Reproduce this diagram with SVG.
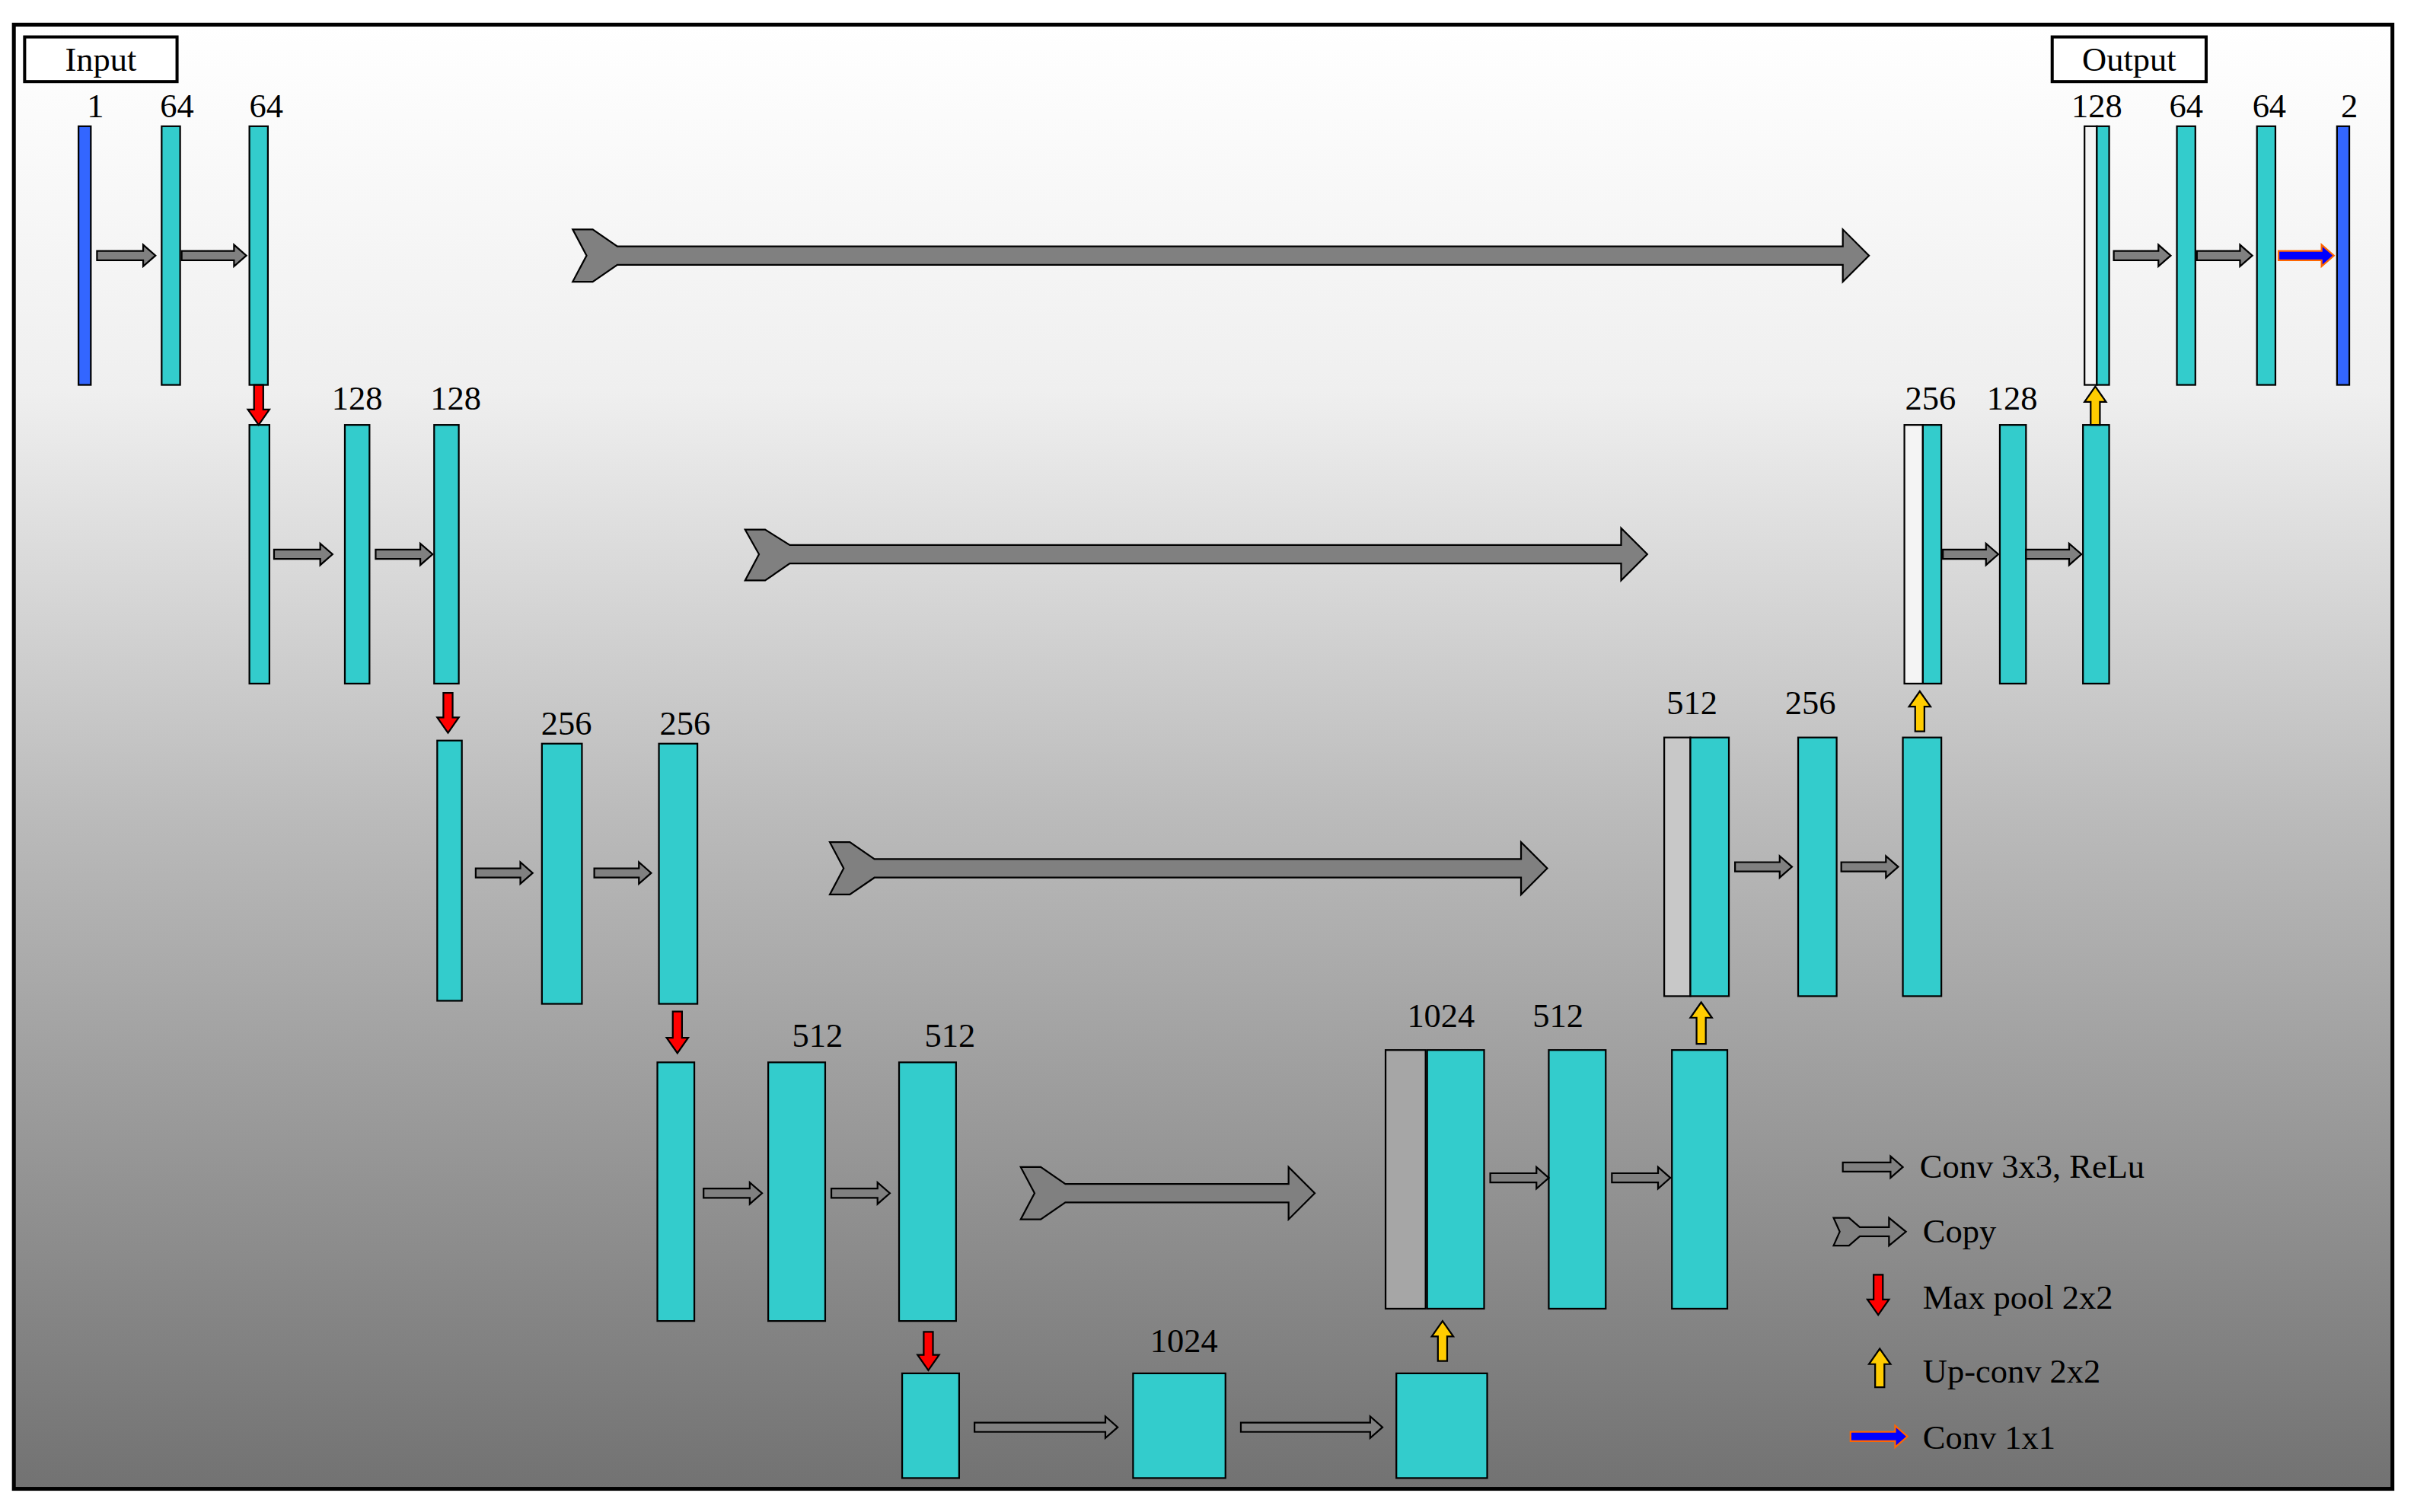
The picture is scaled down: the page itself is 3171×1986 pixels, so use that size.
<svg xmlns="http://www.w3.org/2000/svg" width="3171" height="1986" viewBox="0 0 3171 1986">
<defs>
<linearGradient id="bg" x1="0" y1="0" x2="0" y2="1">
<stop offset="0" stop-color="#ffffff"/><stop offset="0.25" stop-color="#efefef"/><stop offset="0.55" stop-color="#b9b9b9"/><stop offset="1" stop-color="#727272"/>
</linearGradient>
<style>
.c{fill:#33cccc;stroke:#000;stroke-width:1.1}
.b{fill:#3366ff;stroke:#000;stroke-width:1.1}
.w{fill:#f4f4f4;stroke:#000;stroke-width:1.1}
.g{fill:#c8c8c8;stroke:#000;stroke-width:1.1}
.g2{fill:#a6a6a6;stroke:#000;stroke-width:1.1}
.a{fill:#808080;stroke:#000;stroke-width:1.1}
.r{fill:#ff0000;stroke:#000;stroke-width:1.1}
.y{fill:#ffcc00;stroke:#000;stroke-width:1.1}
.bl{fill:#0000ff;stroke:#ff6600;stroke-width:1.1}
text{font-family:"Liberation Serif","Times New Roman",serif;font-size:22px;fill:#000}
.n{text-anchor:middle}
</style>
</defs>
<g transform="scale(2.0223)">
<rect x="9" y="16" width="1545" height="951" fill="url(#bg)" stroke="#000" stroke-width="2.5"/>
<g id="input"><rect x="16" y="24" width="99" height="29" fill="#fff" stroke="#000" stroke-width="2"/><text class="n" x="65.5" y="46">Input</text></g>
<g id="output"><rect x="1333" y="24" width="100" height="29" fill="#fff" stroke="#000" stroke-width="2"/><text class="n" x="1383" y="46">Output</text></g>

<g id="l1">
<rect class="b" x="51" y="82" width="8" height="168"/><text class="n" x="62" y="76">1</text>
<rect class="c" x="105" y="82" width="12" height="168"/><text class="n" x="115" y="76">64</text>
<rect class="c" x="162" y="82" width="12" height="168"/><text class="n" x="173" y="76">64</text>
</g>
<g id="l2">
<rect class="c" x="162" y="276" width="13" height="168"/>
<rect class="c" x="224" y="276" width="16" height="168"/><text class="n" x="232" y="266">128</text>
<rect class="c" x="282" y="276" width="16" height="168"/><text class="n" x="296" y="266">128</text>
</g>
<g id="l3">
<rect class="c" x="284" y="481" width="16" height="169"/>
<rect class="c" x="352" y="483" width="26" height="169"/><text class="n" x="368" y="477">256</text>
<rect class="c" x="428" y="483" width="25" height="169"/><text class="n" x="445" y="477">256</text>
</g>
<g id="l4">
<rect class="c" x="427" y="690" width="24" height="168"/>
<rect class="c" x="499" y="690" width="37" height="168"/><text class="n" x="531" y="680">512</text>
<rect class="c" x="584" y="690" width="37" height="168"/><text class="n" x="617" y="680">512</text>
</g>
<g id="l5">
<rect class="c" x="586" y="892" width="37" height="68"/>
<rect class="c" x="736" y="892" width="60" height="68"/><text class="n" x="769" y="878">1024</text>
<rect class="c" x="907" y="892" width="59" height="68"/>
</g>
<g id="r4">
<rect class="g2" x="900" y="682" width="26" height="168"/>
<rect class="c" x="927" y="682" width="37" height="168"/><text class="n" x="936" y="667">1024</text>
<rect class="c" x="1006" y="682" width="37" height="168"/><text class="n" x="1012" y="667">512</text>
<rect class="c" x="1086" y="682" width="36" height="168"/>
</g>
<g id="r3">
<rect class="g" x="1081" y="479" width="17" height="168"/>
<rect class="c" x="1098" y="479" width="25" height="168"/><text class="n" x="1099" y="464">512</text>
<rect class="c" x="1168" y="479" width="25" height="168"/><text class="n" x="1176" y="464">256</text>
<rect class="c" x="1236" y="479" width="25" height="168"/>
</g>
<g id="r2">
<rect class="w" x="1237" y="276" width="12" height="168"/>
<rect class="c" x="1249" y="276" width="12" height="168"/><text class="n" x="1254" y="266">256</text>
<rect class="c" x="1299" y="276" width="17" height="168"/><text class="n" x="1307" y="266">128</text>
<rect class="c" x="1353" y="276" width="17" height="168"/>
</g>
<g id="r1">
<rect class="w" x="1354" y="82" width="8" height="168"/>
<rect class="c" x="1362" y="82" width="8" height="168"/><text class="n" x="1362" y="76">128</text>
<rect class="c" x="1414" y="82" width="12" height="168"/><text class="n" x="1420" y="76">64</text>
<rect class="c" x="1466" y="82" width="12" height="168"/><text class="n" x="1474" y="76">64</text>
<rect class="b" x="1518" y="82" width="8" height="168"/><text class="n" x="1526" y="76">2</text>
</g>

<g id="connectors">
<path class="a" d="M63,163 H93 V159 L101,166 L93,173 V169 H63 Z"/>
<path class="a" d="M118,163 H152 V159 L160,166 L152,173 V169 H118 Z"/>
<path class="a" d="M1373,163 H1402 V159 L1410,166 L1402,173 V169 H1373 Z"/>
<path class="a" d="M1427,163 H1455 V159 L1463,166 L1455,173 V169 H1427 Z"/>
<path class="bl" d="M1480,163 H1508 V159 L1516,166 L1508,173 V169 H1480 Z"/>
<path class="a" d="M178,357 H208 V353 L216,360 L208,367 V363 H178 Z"/>
<path class="a" d="M244,357 H273 V353 L281,360 L273,367 V363 H244 Z"/>
<path class="a" d="M1262,357 H1290 V353 L1298,360 L1290,367 V363 H1262 Z"/>
<path class="a" d="M1316,357 H1344 V353 L1352,360 L1344,367 V363 H1316 Z"/>
<path class="a" d="M309,564 H338 V560 L346,567 L338,574 V570 H309 Z"/>
<path class="a" d="M386,564 H415 V560 L423,567 L415,574 V570 H386 Z"/>
<path class="a" d="M1127,560 H1156 V556 L1164,563 L1156,570 V566 H1127 Z"/>
<path class="a" d="M1196,560 H1225 V556 L1233,563 L1225,570 V566 H1196 Z"/>
<path class="a" d="M457,772 H487 V768 L495,775 L487,782 V778 H457 Z"/>
<path class="a" d="M540,772 H570 V768 L578,775 L570,782 V778 H540 Z"/>
<path class="a" d="M968,762 H998 V758 L1006,765 L998,772 V768 H968 Z"/>
<path class="a" d="M1047,762 H1077 V758 L1085,765 L1077,772 V768 H1047 Z"/>
<path class="a" d="M633,924 H718 V920 L726,927 L718,934 V930 H633 Z"/>
<path class="a" d="M806,924 H890 V920 L898,927 L890,934 V930 H806 Z"/>
<path class="a" d="M372,149 H385 L401,160 H1197 V149 L1214,166 L1197,183 V172 H401 L385,183 H372 L381,166 Z"/>
<path class="a" d="M484,344 H497 L513,354 H1053 V343 L1070,360 L1053,377 V366 H513 L497,377 H484 L493,360 Z"/>
<path class="a" d="M539,547 H552 L568,558 H988 V547 L1005,564 L988,581 V570 H568 L552,581 H539 L548,564 Z"/>
<path class="a" d="M663,758 H676 L692,769 H837 V758 L854,775 L837,792 V781 H692 L676,792 H663 L672,775 Z"/>
<path class="r" d="M165,250 H171 V266 H175 L168,276 L161,266 H165 Z"/>
<path class="r" d="M288,450 H294 V466 H298 L291,476 L284,466 H288 Z"/>
<path class="r" d="M437,657 H443 V674 H447 L440,684 L433,674 H437 Z"/>
<path class="r" d="M600,865 H606 V880 H610 L603,890 L596,880 H600 Z"/>
<path class="y" d="M1358,276 H1364 V261 H1368 L1361,251 L1354,261 H1358 Z"/>
<path class="y" d="M1244,475 H1250 V459 H1254 L1247,449 L1240,459 H1244 Z"/>
<path class="y" d="M1102,678 H1108 V661 H1112 L1105,651 L1098,661 H1102 Z"/>
<path class="y" d="M934,884 H940 V868 H944 L937,858 L930,868 H934 Z"/>
</g>

<g id="legend">
<path class="a" d="M1197,755 H1228 V751 L1236,758 L1228,765 V761 H1197 Z"/><text x="1247" y="765">Conv 3x3, ReLu</text>
<path class="a" d="M1191,791 H1201 L1208,797 H1227 V791 L1238,800 L1227,809 V803 H1208 L1201,809 H1191 L1195,800 Z"/><text x="1249" y="807">Copy</text>
<path class="r" d="M1217,828 H1223 V844 H1227 L1220,854 L1213,844 H1217 Z"/><text x="1249" y="850">Max pool 2x2</text>
<path class="y" d="M1218,901 H1224 V886 H1228 L1221,876 L1214,886 H1218 Z"/><text x="1249" y="898">Up-conv 2x2</text>
<path class="bl" d="M1202,930 H1231 V926 L1239,933 L1231,940 V936 H1202 Z"/><text x="1249" y="941">Conv 1x1</text>
</g>
</g>
</svg>
